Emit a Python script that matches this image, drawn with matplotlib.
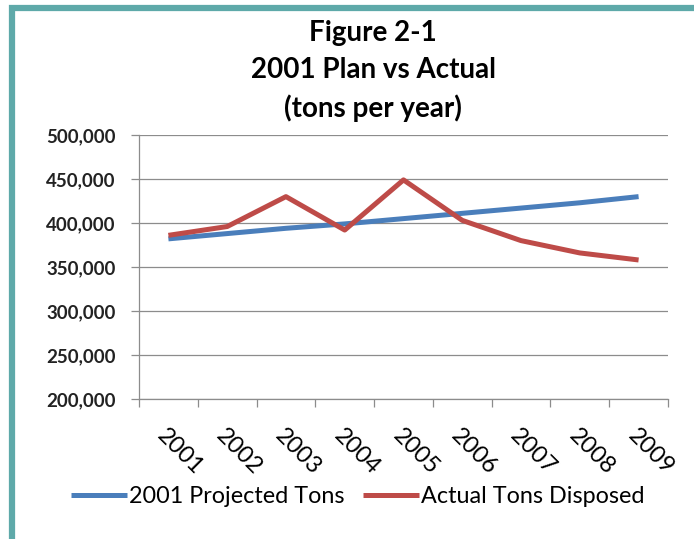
import matplotlib.pyplot as plt
from matplotlib.patches import Rectangle
from matplotlib.ticker import FuncFormatter

years = ["2001", "2002", "2003", "2004", "2005", "2006", "2007", "2008", "2009"]
projected = [382000, 388000, 394000, 399000, 405000, 411000, 417000, 423000, 430000]
actual = [386000, 396000, 430000, 392000, 449000, 403000, 380000, 366000, 358000]

plt.rcParams['font.family'] = ['Lato', 'DejaVu Sans']

fig = plt.figure(figsize=(6.94, 5.39), dpi=100)
ax = fig.add_axes([0.2003, 0.2597, 0.7622, 0.4898])

x = list(range(len(years)))
ax.plot(x, projected, color='#4A7EBB', lw=3.6, solid_capstyle='butt',
        label='2001 Projected Tons')
ax.plot(x, actual, color='#BE4B48', lw=3.6, solid_capstyle='butt',
        label='Actual Tons Disposed')

ax.set_xlim(-0.5, len(years) - 0.5)
ax.set_ylim(200000, 500000)
ax.set_yticks(range(200000, 500001, 50000))
ax.yaxis.set_major_formatter(FuncFormatter(lambda v, p: f"{int(v):,}"))
ax.grid(axis='y', color='#8c8c8c', lw=0.9)
ax.set_axisbelow(True)

ax.set_xticks(x)
ax.set_xticklabels(years, rotation=-45, ha='left', va='top',
                   rotation_mode='anchor', fontsize=17)
ax.tick_params(axis='x', length=0, pad=19)
ax.set_xticks([i - 0.5 for i in range(len(years) + 1)], minor=True)
ax.tick_params(axis='x', which='minor', length=6, color='#8c8c8c', width=0.9)
ax.tick_params(axis='y', length=6, color='#8c8c8c', width=0.9,
               labelsize=13.5, pad=11)
for lbl in ax.get_yticklabels():
    lbl.set_fontweight('bold')
    lbl.set_color('#222222')

for s in ['top', 'right']:
    ax.spines[s].set_visible(False)
for s in ['left', 'bottom']:
    ax.spines[s].set_color('#8c8c8c')
    ax.spines[s].set_linewidth(0.9)

fig.text(0.538, 0.868, "Figure 2-1\n2001 Plan vs Actual\n(tons per year)",
         ha='center', va='center', fontsize=20, fontweight='bold',
         linespacing=1.5)

fig.legend(loc='center', bbox_to_anchor=(0.516, 0.078), ncol=2, frameon=False,
           fontsize=16.8, handlelength=2.4, handletextpad=0.08, columnspacing=0.8)

# teal frame (left and top edges)
fig.patches.append(Rectangle((12 / 694, -0.05), 1.2, 1 - 7.5 / 539 + 0.05,
                             transform=fig.transFigure, fill=False,
                             edgecolor='#5EA9A9', lw=4.5))

fig.savefig("out.png", dpi=100)
